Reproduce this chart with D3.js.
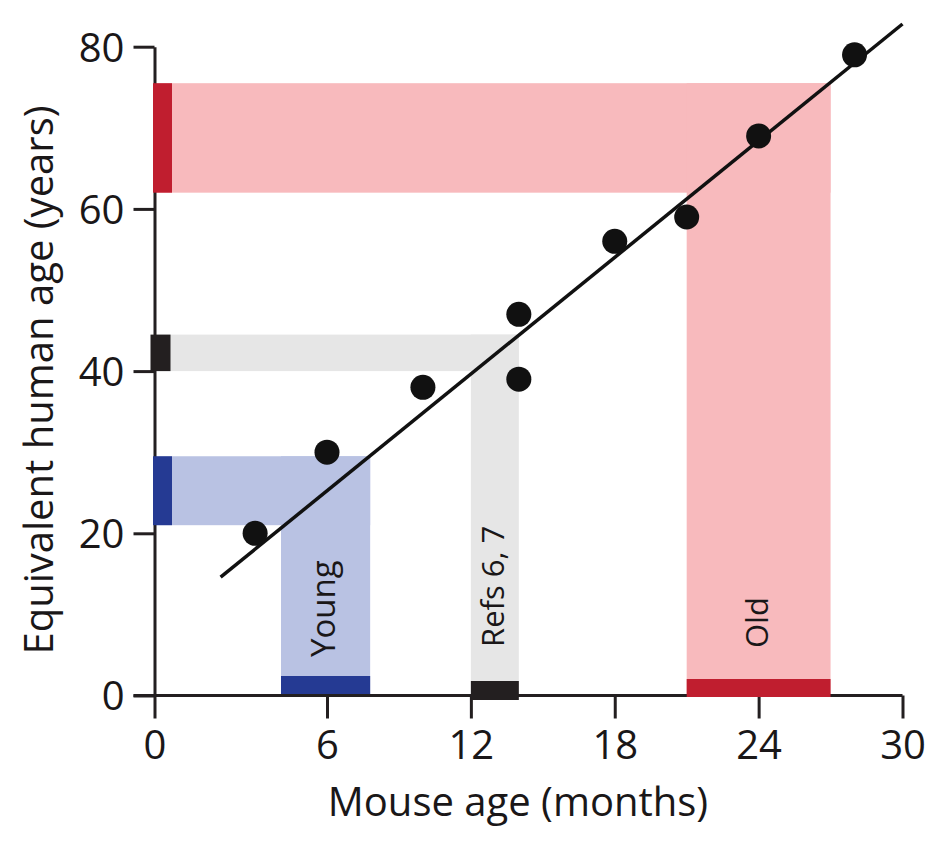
<!DOCTYPE html>
<html><head><meta charset="utf-8">
<script src="https://cdn.jsdelivr.net/npm/d3@7"></script>
<style>body{margin:0;background:#fff}svg{display:block}text{font-family:"Open Sans",sans-serif;fill:#1a1718}</style>
</head><body><div id="chart"></div>
<script>
// ---- data ----
const mouseAge = [3.5, 6, 10, 14, 14, 18, 21, 24, 28];
const humanAge = [20, 30, 38, 47, 39, 56, 59, 69, 79];
const fitX = [2.3, 30];
const fitY = [14.6, 82.8];
const bandNames = ["Young", "Refs 6, 7", "Old"];
const bandX0 = [4.4, 12, 21];
const bandX1 = [7.8, 14, 27];
const bandY0 = [21, 40, 62];
const bandY1 = [29.5, 44.5, 75.5];
const bandLight = ["#b9c2e3", "#e6e6e6", "#f8babd"];
const bandDark = ["#253a93", "#231f20", "#c01e2f"];
const xTicks = [0, 6, 12, 18, 24, 30];
const yTicks = [0, 20, 40, 60, 80];
const xTitle = "Mouse age (months)";
const yTitle = "Equivalent human age (years)";

const W = 946, H = 849;
const svg = d3.select("#chart").append("svg").attr("width", W).attr("height", H);
const x = d3.scaleLinear().domain([0, 6, 30]).range([154.5, 327, 902.5]);
const y = d3.scaleLinear().domain([0, 80]).range([695.5, 46.7]);

const bands = bandNames.map((n, i) => ({n, x0: bandX0[i], x1: bandX1[i], y0: bandY0[i], y1: bandY1[i], light: bandLight[i], dark: bandDark[i]}));

// light L-shaped bands
const gB = svg.append("g");
bands.forEach(b => {
  gB.append("rect").attr("x", x(0)).attr("y", y(b.y1)).attr("width", x(b.x1) - x(0)).attr("height", y(b.y0) - y(b.y1)).attr("fill", b.light);
  gB.append("rect").attr("x", x(b.x0)).attr("y", y(b.y1)).attr("width", x(b.x1) - x(b.x0)).attr("height", y(0) - y(b.y1)).attr("fill", b.light);
});

// axes
const gx = svg.append("g").attr("transform", `translate(0,${y(0)})`)
  .call(d3.axisBottom(x).tickValues(xTicks).tickFormat(d3.format("d")).tickSize(23).tickSizeOuter(0).tickPadding(12));
const gy = svg.append("g").attr("transform", `translate(${x(0)},0)`)
  .call(d3.axisLeft(y).tickValues(yTicks).tickSize(21).tickSizeOuter(0).tickPadding(9));
[gx, gy].forEach(g => {
  g.select(".domain").attr("stroke", "#231f20").attr("stroke-width", 3);
  g.selectAll(".tick line").attr("stroke", "#231f20").attr("stroke-width", 3);
  g.selectAll(".tick text").attr("font-size", 40).attr("font-family", "'Open Sans',sans-serif").attr("fill", "#1a1718");
});
gy.selectAll(".tick text").attr("dy", "0.36em");
gx.select(".domain").attr("d", `M${x(0) - 21},0H${x(30)}`);

// dark stripes
bands.forEach((b, i) => {
  const wy = i === 1 ? 19 : 18;
  svg.append("rect").attr("x", i === 1 ? x(0) - 4 : x(0) - 1.5).attr("y", y(b.y1)).attr("width", i === 1 ? 20 : 19).attr("height", y(b.y0) - y(b.y1)).attr("fill", b.dark);
  const off = [ -19.5, -14.5, -16.5 ][i];
  svg.append("rect").attr("x", x(b.x0)).attr("y", y(0) + off).attr("width", x(b.x1) - x(b.x0)).attr("height", wy).attr("fill", b.dark);
});

// band labels
const labelBottom = [657, 647, 648];
const labelSize = [33, 31, 31];
bands.forEach((b, i) => {
  const cx = (x(b.x0) + x(b.x1)) / 2 + 9;
  svg.append("text").attr("transform", `translate(${cx},${labelBottom[i]}) rotate(-90)`)
    .attr("font-size", labelSize[i]).text(b.n);
});

// fit line
svg.append("line").attr("x1", x(fitX[0])).attr("y1", y(fitY[0])).attr("x2", x(fitX[1])).attr("y2", y(fitY[1]))
  .attr("stroke", "#111").attr("stroke-width", 3.5);

// points
svg.append("g").selectAll("circle").data(mouseAge).join("circle")
  .attr("cx", (d) => x(d)).attr("cy", (d, i) => y(humanAge[i])).attr("r", 12.5).attr("fill", "#111");

// titles
svg.append("text").attr("x", 518).attr("y", 816).attr("text-anchor", "middle").attr("font-size", 40).text(xTitle);
svg.append("text").attr("transform", `translate(53,380) rotate(-90)`).attr("text-anchor", "middle").attr("font-size", 40).text(yTitle);
</script></body></html>
